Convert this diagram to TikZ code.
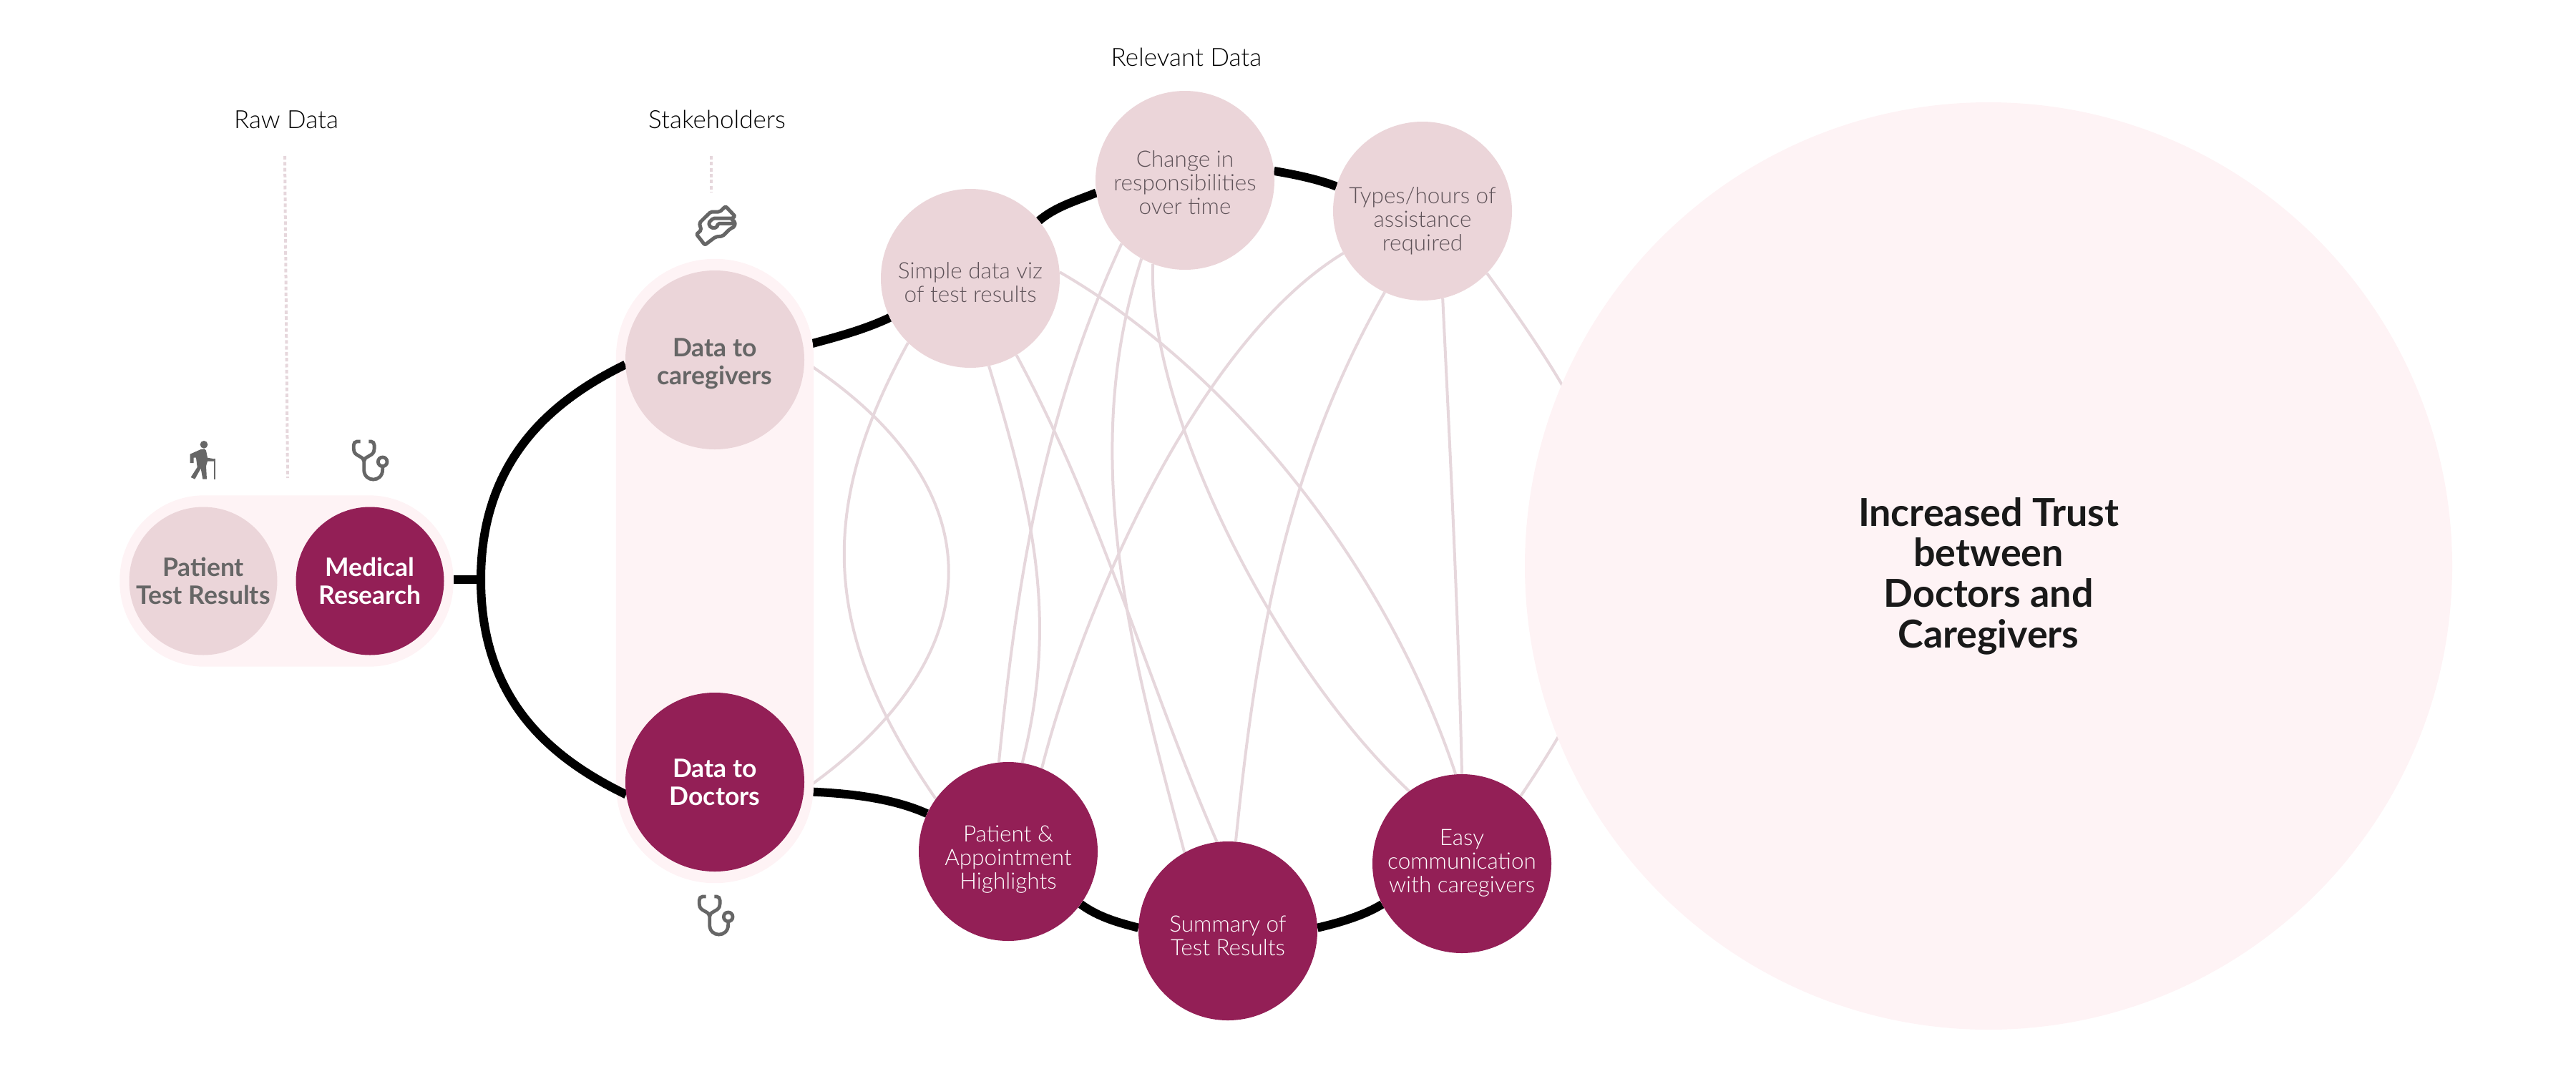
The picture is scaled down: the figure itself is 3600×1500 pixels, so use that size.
\documentclass[tikz,border=0pt]{standalone}
\usepackage{xcolor}
\usepackage{fontspec}
\setmainfont{Lato}
\newfontfamily\thinfont{Lato Light}
\usetikzlibrary{positioning, fit}
\definecolor{pale}{HTML}{FEF3F5}
\definecolor{soft}{HTML}{EBD5D9}
\definecolor{wine}{HTML}{931F56}
\definecolor{thread}{HTML}{E6D7DC}
\definecolor{ink}{HTML}{666666}
\definecolor{softink}{HTML}{5E5258}
\pgfdeclarelayer{wire}
\pgfdeclarelayer{shade}
\pgfdeclarelayer{lead}
\pgfsetlayers{wire,shade,lead,main}
\tikzset{
    x = 1pt, y = -1pt,                          % One unit is one pixel of the reference
    dot/.style = {circle, inner sep = 0pt, align = center},
    softdot/.style = {dot, minimum size = 250pt, fill = soft},  % Relevant data, pale
    winedot/.style = {dot, minimum size = 250pt, fill = wine},  % Relevant data, dark
    softtext/.style = {align = center, text = softink, font = \thinfont\fontsize{31.5}{33}\selectfont},
    winetext/.style = {align = center, text = white, font = \thinfont\fontsize{31.5}{33}\selectfont},
    boldtext/.style = {align = center, font = \bfseries\fontsize{35.5}{39}\selectfont},
    heading/.style = {text = black, font = \thinfont\fontsize{35}{39}\selectfont},
    pillbox/.style = {rectangle, fill = pale, inner xsep = 13pt, inner ysep = 16pt},
    rope/.style = {draw = black, line width = 12pt},            % Heavy links
    threadline/.style = {draw = thread, line width = 4pt},      % Thin links
    dotline/.style = {draw = thread, line width = 4pt, dash pattern = on 5pt off 3.3pt},
    walker/.pic = {
        \fill [ink] (3,-65) circle (16);
        \fill [ink] (-10,-45) -- (5,-47) -- (12,-40) -- (18,-10) -- (45,-5) -- (45,5) -- (18,5)
            -- (12,25) -- (15,80) -- (-2,80) -- (-10,35) -- (-35,80) -- (-52,72) -- (-25,30)
            -- (-30,-10) -- (-40,-10) -- (-40,12) -- (-55,12) -- (-55,-25) -- cycle;
        \fill [ink] (44,-5) rectangle (52,80);
    },
    scope/.pic = {
        \draw [ink, line width = 4.8pt] (-40,-78) -- (-55,-78) .. controls (-72,-78) and (-70,-50) .. (-66,-35)
            .. controls (-58,-15) and (-25,-15) .. (-25,5)
            (-5,-78) -- (5,-78) .. controls (22,-78) and (20,-50) .. (16,-35)
            .. controls (8,-15) and (-25,-15) .. (-25,5)
            -- (-25,40) .. controls (-25,95) and (53,95) .. (53,40) -- (53,26);
        \draw [ink, line width = 4.8pt] (53,7) circle (19);
    },
    shake/.pic = {
        \draw [ink, line width = 5pt, rounded corners = 2pt, line join = round]
            (42,-80) -- (82,-38) -- (65,-27) -- (82,-15) -- (80,5) -- (60,15) -- (45,30) -- (30,45) -- (0,48)
            -- (-45,82) -- (-80,37) -- (-60,20) -- (-68,-10) -- (-20,-57) -- (18,-57) -- cycle
            (65,-30) -- (-10,-30) -- (-30,-10) -- (-20,10) -- (5,10) -- (10,-8) -- (80,-8);
    }
}

\begin{document}
\begin{tikzpicture}
    \useasboundingbox (0,0) rectangle (3600,1500);

    \node [dot, minimum size = 207pt, fill = soft, text = ink, boldtext] (patient) at (284,812) {Patient\\Test Results};
    \node [dot, minimum size = 207pt, fill = wine, text = white, boldtext] (medical) at (517,812) {Medical\\Research};
    \node [dot, minimum size = 250pt, fill = soft, label = {[boldtext, text = ink, yshift = -5pt]center:Data to\\caregivers}] (caregivers) at (999,503) {};
    \node [dot, minimum size = 250pt, fill = wine, text = white, boldtext] (doctors) at (999,1093) {Data to\\Doctors};

    \node [softdot, label = {[softtext, yshift = -6pt]center:Simple data viz\\of test results}] (simple) at (1356,389) {};
    \node [softdot, label = {[softtext, yshift = -3pt]center:Change in\\responsibilities\\over time}] (change) at (1656,252) {};
    \node [softdot, label = {[softtext, yshift = -14pt]center:Types/hours of\\assistance\\required}] (types) at (1988,295) {};
    \node [winedot, label = {[winetext, yshift = -11pt]center:Patient \&\\Appointment\\Highlights}] (highlights) at (1409,1190) {};
    \node [winedot, label = {[winetext, yshift = -7pt]center:Summary of\\Test Results}] (summary) at (1716,1301) {};
    \node [winedot, label = {[winetext, yshift = 1pt]center:Easy\\communication\\with caregivers}] (easy) at (2043,1207) {};

    \node [heading] (rawhead) at (400,167) {Raw Data};
    \node [heading] (stakehead) at (1002,167) {Stakeholders};
    \node [heading] (relevanthead) at (1658,80) {Relevant Data};

    \pic at (284,643) [scale = .3333] {walker};
    \pic at (517,643) [scale = .3333] {scope};
    \pic at (1000,315) [scale = .3333] {shake};
    \pic at (1000,1279) [scale = .3333] {scope};

    \coordinate (rawtop) at (398,218);
    \coordinate (rawend) at (402,668);
    \coordinate (staketop) at (994,218);
    \coordinate (stakeend) at (994,269);
    \coordinate (fork) at (672,810);
    \draw [dotline] (rawtop) -- (rawend);
    \draw [dotline] (staketop) -- (stakeend);

    \begin{pgfonlayer}{shade}
        \node [pillbox, rounded corners = 118pt, fit = (patient)(medical)] (rawpill) {};
        \node [pillbox, rounded corners = 138pt, fit = (caregivers)(doctors)] (stakepill) {};
        \node [dot, minimum size = 1296pt, fill = pale, label = {[align = center, text = black!90, font = \bfseries\fontsize{53.8}{56.6}\selectfont, yshift = -14pt]center:Increased Trust\\between\\Doctors and\\Caregivers}] (trust) at (2779,791) {};
    \end{pgfonlayer}

    \begin{pgfonlayer}{lead}
        \draw [rope] (rawpill.east |- fork) -- (fork);
        \draw [rope] (fork) .. controls (672,650) and (762,564) .. (caregivers.-177);
        \draw [rope] (fork) .. controls (672,972) and (762,1056) .. (doctors.-172);
    \end{pgfonlayer}

    \begin{pgfonlayer}{wire}
        \draw [threadline] (caregivers.-1) .. controls (1393,680) and (1393,915) .. (doctors.-5);
        \draw [threadline] (simple.-134) .. controls (1141,712) and (1148,885) .. (highlights.144);
        \draw [threadline] (simple.-78) .. controls (1443,714) and (1480,863) .. (highlights.81);
        \draw [threadline] (simple.-59) .. controls (1542,722) and (1601,948) .. (summary.97);
        \draw [threadline] (simple.4) .. controls (1711,513) and (1935,782) .. (easy.94);
        \draw [threadline] (change.-135) .. controls (1455,583) and (1420,822) .. (highlights.96);
        \draw [threadline] (change.-119) .. controls (1505,638) and (1582,917) .. (summary.119);
        \draw [threadline] (change.-111) .. controls (1603,571) and (1779,927) .. (easy.126);
        \draw [threadline] (types.-152) .. controls (1670,480) and (1510,860) .. (highlights.68);
        \draw [threadline] (types.-115) .. controls (1790,663) and (1753,921) .. (summary.85);
        \draw [threadline] (types.-77) .. controls (2027,640) and (2038,860) .. (easy.90);
        \draw [threadline] (types.-44) .. controls (2299,685) and (2329,811) .. (easy.49);

        \draw [rope] (caregivers.9) .. controls (1165,472) and (1205,462) .. (simple.-154);
        \draw [rope] (simple.40) .. controls (1475,289) and (1503,281) .. (change.-172);
        \draw [rope] (change.6) .. controls (1810,244) and (1840,250) .. (types.164);
        \draw [rope] (doctors.-6) .. controls (1170,1108) and (1240,1112) .. (highlights.155);
        \draw [rope] (highlights.-36) .. controls (1535,1282) and (1565,1290) .. (summary.178);
        \draw [rope] (summary.2) .. controls (1870,1290) and (1905,1280) .. (easy.-153);
    \end{pgfonlayer}
\end{tikzpicture}
\end{document}
